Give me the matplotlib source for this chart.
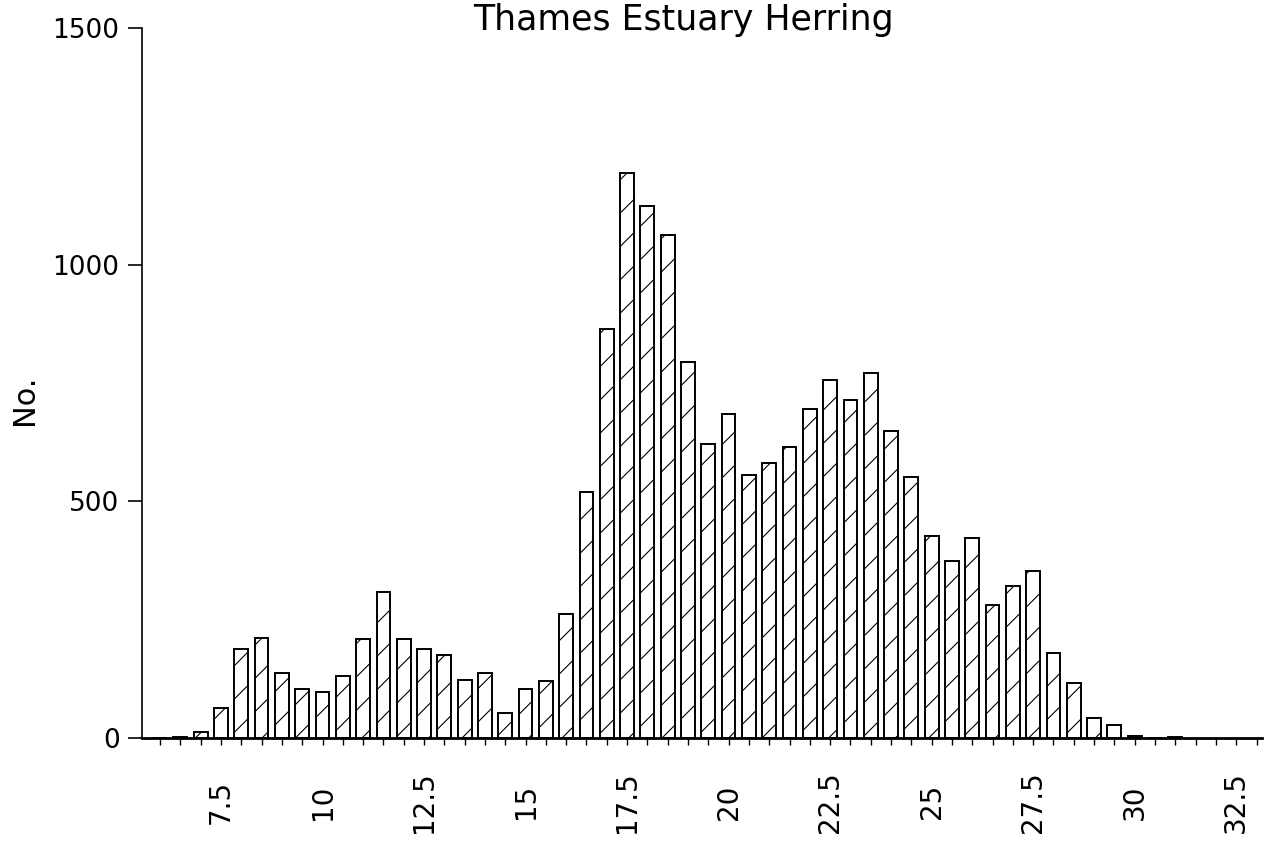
import numpy as np
import matplotlib
matplotlib.use("Agg")
import matplotlib.pyplot as plt
from matplotlib.ticker import MultipleLocator

# length classes (cm), 0.5 cm steps, and counts
lengths = np.arange(6.0, 31.5, 0.5)
counts = [0, 3, 12, 63, 188, 211, 137, 103, 97, 131,
          209, 308, 209, 188, 175, 122, 137, 53, 103, 120,
          262, 519, 865, 1194, 1123, 1063, 795, 620, 684, 555,
          580, 614, 695, 757, 713, 770, 648, 551, 427, 373,
          422, 281, 320, 353, 179, 116, 42, 27, 4, 0,
          2]
label_ticks = [7.5, 10, 12.5, 15, 17.5, 20, 22.5, 25, 27.5, 30, 32.5]
y_ticks = [0, 500, 1000, 1500]

plt.rcParams["hatch.linewidth"] = 0.8

fig = plt.figure(figsize=(12.66, 8.46), dpi=100)
ax = fig.add_axes([0.112, 0.1277, 0.885, 0.8393])

ax.bar(lengths, counts, width=0.34, color="white", edgecolor="black",
       linewidth=1.4, hatch="/")

ax.set_xlim(5.55, 33.14)
ax.set_ylim(0, 1500)
ax.set_yticks(y_ticks)
ax.set_xticks(label_ticks)
ax.set_xticklabels([("%g" % v) for v in label_ticks], rotation=90, va="center")
ax.xaxis.set_minor_locator(MultipleLocator(0.5))

ax.spines["top"].set_visible(False)
ax.spines["right"].set_visible(False)
ax.spines["bottom"].set_linewidth(2)
ax.spines["left"].set_linewidth(1.2)
ax.tick_params(axis="y", direction="out", length=10, width=1.2, labelsize=19, pad=6)
ax.tick_params(axis="x", which="both", direction="out", length=5, width=1,
               labelsize=20, pad=41)

ax.set_ylabel("No.", fontsize=22)
ax.yaxis.set_label_coords(-0.092, 0.476)
fig.text(0.54, 1 - 30 / 846, "Thames Estuary Herring", ha="center",
         va="baseline", fontsize=25)

fig.savefig("out.png", dpi=100)
